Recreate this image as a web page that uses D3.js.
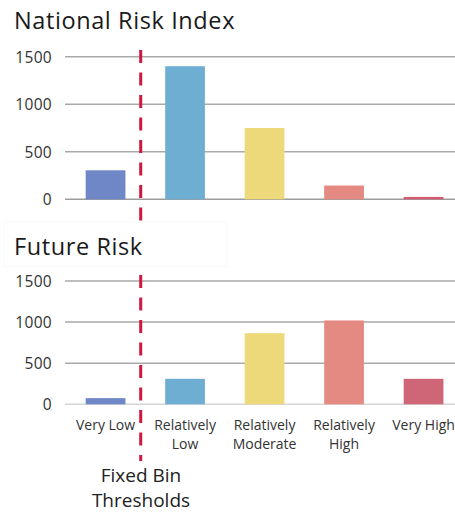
<!DOCTYPE html>
<html>
<head>
<meta charset="utf-8">
<script src="https://cdn.jsdelivr.net/npm/d3@7"></script>
<style>
  html, body { margin: 0; padding: 0; background: #fff; }
  svg { display: block; }
  text { font-family: "Open Sans", "Liberation Sans", sans-serif; fill: #222; }
</style>
</head>
<body>
<svg id="chart" width="455" height="512"></svg>
<script>
// Risk rating categories (two-line labels)
const categories = ["Very Low", "Relatively Low", "Relatively Moderate", "Relatively High", "Very High"];
const categoryLines = [["Very Low"], ["Relatively", "Low"], ["Relatively", "Moderate"], ["Relatively", "High"], ["Very High"]];

// Counts per category
const nationalRiskValues = [305, 1400, 750, 145, 25];
const futureRiskValues = [75, 310, 865, 1020, 310];

const yTicks = [0, 500, 1000, 1500];

const topColors = ["#6f87c7", "#6faed3", "#eed97a", "#e58a83", "#d35a70"];
const bottomColors = ["#6f87c7", "#6faed3", "#eed97a", "#e58a83", "#cf6678"];

const svg = d3.select("#chart");

const x = d3.scaleBand()
  .domain(categories)
  .range([65.8, 463.3])
  .paddingInner(0.5)
  .paddingOuter(0.25);

function drawPanel(values, colors, yTop, yBottom, baseColor) {
  const y = d3.scaleLinear().domain([0, 1500]).range([yBottom, yTop]);
  const g = svg.append("g");

  // Gridlines
  g.selectAll("line.grid")
    .data(yTicks)
    .join("line")
    .attr("class", "grid")
    .attr("x1", 65).attr("x2", 463)
    .attr("y1", d => y(d)).attr("y2", d => y(d))
    .attr("stroke", d => d === 0 ? baseColor : "#a9a9a9")
    .attr("stroke-width", 1.5);

  // Tick labels
  g.selectAll("text.tick")
    .data(yTicks)
    .join("text")
    .attr("class", "tick")
    .attr("x", 52)
    .attr("y", d => y(d))
    .attr("text-anchor", "end")
    .attr("dominant-baseline", "central")
    .style("font-size", "15.5px")
    .style("letter-spacing", "0.3px")
    .style("fill", "#333")
    .text(d => d);

  // Bars
  g.selectAll("rect.bar")
    .data(values)
    .join("rect")
    .attr("class", "bar")
    .attr("x", (d, i) => x(categories[i]))
    .attr("width", x.bandwidth())
    .attr("y", d => y(d))
    .attr("height", d => y(0) - y(d))
    .attr("fill", (d, i) => colors[i]);

  return y;
}

drawPanel(nationalRiskValues, topColors, 56.7, 199.3, "#9c9c9c");
drawPanel(futureRiskValues, bottomColors, 281, 404.3, "#d6d6d6");

// Threshold divider
const divX = 140.7;
svg.append("line")
  .attr("x1", divX).attr("x2", divX)
  .attr("y1", 50).attr("y2", 461)
  .attr("stroke", "#d0183e")
  .attr("stroke-width", 3)
  .attr("stroke-dasharray", "13 9.5");

// Title box for the lower panel
svg.append("rect")
  .attr("x", 4).attr("y", 222).attr("width", 223).attr("height", 44.5)
  .attr("fill", "#fff")
  .attr("stroke", "#f9f9f9")
  .attr("stroke-width", 1);

svg.append("text")
  .attr("x", 14).attr("y", 28.5)
  .style("font-size", "23.5px")
  .style("letter-spacing", "0.6px")
  .style("fill", "#1a1a1a")
  .text("National Risk Index");

svg.append("text")
  .attr("x", 14).attr("y", 255)
  .style("font-size", "23.5px")
  .style("letter-spacing", "0.6px")
  .style("fill", "#1a1a1a")
  .text("Future Risk");

// Category labels
const labels = svg.selectAll("text.cat")
  .data(categoryLines)
  .join("text")
  .attr("class", "cat")
  .attr("text-anchor", "middle")
  .style("font-size", "14px")
  .style("fill", "#333");

labels.selectAll("tspan")
  .data((d, i) => d.map(line => ({ line, i })))
  .join("tspan")
  .attr("x", d => x(categories[d.i]) + x.bandwidth() / 2)
  .attr("y", (d, j) => 430 + j * 18.5)
  .text(d => d.line);

// Divider caption
svg.append("text")
  .attr("text-anchor", "middle")
  .style("font-size", "19px")
  .style("fill", "#222")
  .selectAll("tspan")
  .data(["Fixed Bin", "Thresholds"])
  .join("tspan")
  .attr("x", 141)
  .attr("y", (d, i) => 482 + i * 25)
  .text(d => d);
</script>
</body>
</html>
